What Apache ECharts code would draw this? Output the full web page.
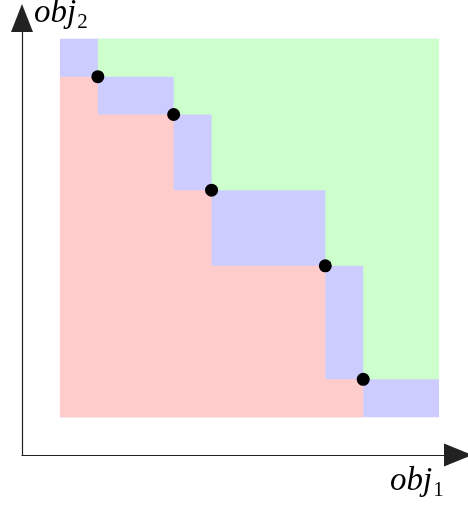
<!DOCTYPE html>
<html>
<head>
<meta charset="utf-8">
<script src="https://cdn.jsdelivr.net/npm/echarts@6/dist/echarts.min.js"></script>
<style>
  html, body { margin: 0; padding: 0; background: #fff; }
  #chart { width: 468px; height: 507px; }
</style>
</head>
<body>
<div id="chart"></div>
<script>
// pareto front points (obj1, obj2)
var frontX = [1, 3, 4, 7, 8];
var frontY = [9, 8, 6, 4, 1];
// bounds of the shaded box
var boxMin = 0;
var boxMax = 10;

// red: dominated region below the staircase
var redPoly = [[boxMin, boxMin], [boxMin, frontY[0]]];
for (var i = 0; i < frontX.length; i++) {
    redPoly.push([frontX[i], frontY[i]]);
    if (i + 1 < frontX.length) redPoly.push([frontX[i], frontY[i + 1]]);
}
redPoly.push([frontX[frontX.length - 1], boxMin]);

// green: region above the staircase
var greenPoly = [[frontX[0], boxMax]];
for (var j = 0; j < frontX.length; j++) {
    greenPoly.push([frontX[j], frontY[j]]);
    greenPoly.push([j + 1 < frontX.length ? frontX[j + 1] : boxMax, frontY[j]]);
}
greenPoly.push([boxMax, boxMax]);

var bluePoly = [[boxMin, boxMin], [boxMin, boxMax], [boxMax, boxMax], [boxMax, boxMin]];

var points = frontX.map(function (x, k) { return [x, frontY[k]]; });

function polySeries(poly, color) {
    return {
        type: 'custom',
        silent: true,
        data: [[0, 0]],
        renderItem: function (params, api) {
            return {
                type: 'polygon',
                shape: { points: poly.map(function (p) { return api.coord(p); }) },
                style: { fill: color }
            };
        },
        z: 1
    };
}

var myChart = echarts.init(document.getElementById('chart'));

// italic face of Liberation Serif is missing here, oblique gives a slanted serif
var serif = '"Liberation Serif", serif';
var labelRich = {
    i: { fontFamily: serif, fontStyle: 'oblique', fontWeight: 'normal', fontSize: 33, lineHeight: 36, color: '#000' },
    s: { fontFamily: serif, fontStyle: 'normal', fontWeight: 'normal', fontSize: 21, lineHeight: 36, color: '#000', padding: [18, 0, 0, 1] }
};
var labelStyle = { fontFamily: serif, fontWeight: 'normal', rich: labelRich };

var option = {
    animation: false,
    backgroundColor: '#fff',
    title: [
        { text: '{i|obj}{s|2}', left: 34, top: -5, padding: 0, textStyle: labelStyle },
        { text: '{i|obj}{s|1}', left: 390, top: 463, padding: 0, textStyle: labelStyle }
    ],
    grid: { left: 22, top: 18, width: 436, height: 437 },
    xAxis: {
        type: 'value', min: -1, max: 10.5,
        axisLine: {
            show: true, onZero: false,
            lineStyle: { color: '#222', width: 1.2 },
            symbol: ['none', 'triangle'], symbolSize: [23, 28]
        },
        axisTick: { show: false }, axisLabel: { show: false }, splitLine: { show: false }
    },
    yAxis: {
        type: 'value', min: -1, max: 10.55,
        axisLine: {
            show: true, onZero: false,
            lineStyle: { color: '#222', width: 1.2 },
            symbol: ['none', 'triangle'], symbolSize: [22, 28]
        },
        axisTick: { show: false }, axisLabel: { show: false }, splitLine: { show: false }
    },
    series: [
        polySeries(bluePoly, '#ccccff'),
        polySeries(redPoly, '#ffcccc'),
        polySeries(greenPoly, '#ccffcc'),
        {
            type: 'scatter',
            data: points,
            symbolSize: 13,
            itemStyle: { color: '#000', opacity: 1 },
            z: 5
        }
    ]
};

myChart.setOption(option);
</script>
</body>
</html>
